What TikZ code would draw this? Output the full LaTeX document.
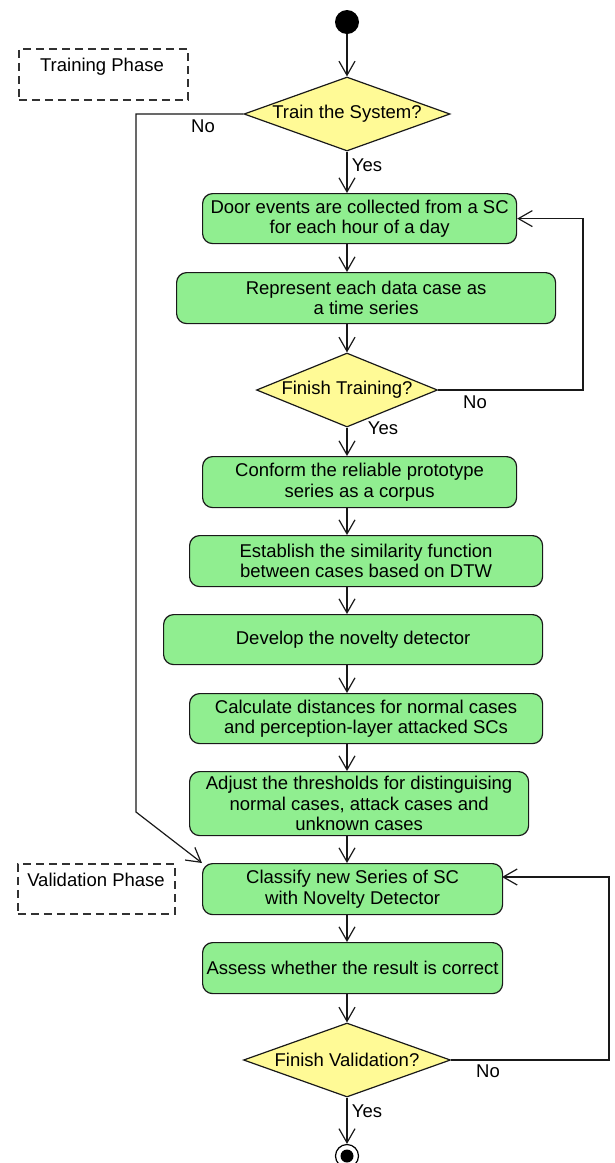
\documentclass[tikz,border=0pt]{standalone}
\usepackage{fontspec}
\setmainfont{Liberation Sans}
\usetikzlibrary{shapes.geometric,arrows.meta}
\definecolor{boxgreen}{RGB}{144,238,144}
\definecolor{dyellow}{RGB}{255,250,150}
\definecolor{dashgray}{RGB}{50,50,50}
\definecolor{edgegray}{RGB}{25,25,25}
\begin{document}
\begin{tikzpicture}[x=1pt,y=-1pt,
  font=\fontsize{18.5}{20.5}\selectfont,
  box/.style={draw=edgegray, line width=1.2pt, fill=boxgreen, rounded corners=10pt,
    align=center, inner sep=0pt, anchor=north west},
  dec/.style={diamond, draw=edgegray, line width=1.2pt, fill=dyellow, inner sep=0pt},
  arr/.style={-{Straight Barb[length=14pt,width=16pt]}, line width=1.2pt, draw=edgegray},
  phase/.style={draw=dashgray, dash pattern=on 8pt off 5pt, line width=1.5pt,
    anchor=north west, inner sep=0pt},
  lab/.style={inner sep=0pt}]
\useasboundingbox (0,0) rectangle (614,1163);
\begin{scope}
\clip (0,0) rectangle (614,1163);
% nodes
\node[circle, fill=black, minimum size=24pt, inner sep=0pt] (start) at (347,22) {};
\node[dec, minimum width=206pt, minimum height=74pt, aspect=2.8] (d1) at (347,114) {Train the System?};
\node[box, minimum width=314pt, minimum height=50pt] (b1) at (202,193) {Door events are collected from a SC\\for each hour of a day};
\node[box, minimum width=379pt, minimum height=51pt] (b2) at (176,272) {Represent each data case as\\a time series};
\node[dec, minimum width=181pt, minimum height=74pt, aspect=2.45] (d2) at (347,390) {Finish Training?};
\node[box, minimum width=314pt, minimum height=51pt] (b3) at (202,456) {Conform the reliable prototype\\series as a corpus};
\node[box, minimum width=353pt, minimum height=51pt] (b4) at (189,535) {Establish the similarity function\\between cases based on DTW};
\node[box, minimum width=379pt, minimum height=50pt] (b5) at (163,614) {Develop the novelty detector};
\node[box, minimum width=353pt, minimum height=50pt] (b6) at (189,693) {Calculate distances for normal cases\\and perception-layer attacked SCs};
\node[box, minimum width=339pt, minimum height=64pt] (b7) at (189,771) {Adjust the thresholds for distinguising\\normal cases, attack cases and\\unknown cases};
\node[box, minimum width=300pt, minimum height=51pt] (b8) at (202,863) {Classify new Series of SC\\with Novelty Detector};
\node[box, minimum width=300pt, minimum height=51pt] (b9) at (202,942) {Assess whether the result is correct};
\node[dec, minimum width=207pt, minimum height=74pt, aspect=2.8] (d3) at (347,1060) {Finish Validation?};
\node[circle, draw=black, line width=1.2pt, minimum size=23pt, inner sep=0pt] (end) at (347,1156) {};
\node[circle, fill=black, minimum size=13pt, inner sep=0pt] (endin) at (end) {};
% phase boxes
\node[phase, minimum width=169pt, minimum height=51pt] (tp) at (18,48) {};
\node[lab] (tpl) at (102,67) {Training Phase};
\node[phase, minimum width=157pt, minimum height=50pt] (vp) at (17,863) {};
\node[lab] (vpl) at (96,880) {Validation Phase};
% helper coordinates
\coordinate (ax) at (347,0);
\coordinate (lx) at (136,0);
\coordinate (bend) at (136,812);
\coordinate (rx1) at (583,0);
\coordinate (rx2) at (609,0);
\coordinate (in8) at (502,877);
% connectors
\draw[arr] (start) -- (d1);
\draw[arr] (d1) -- (b1.north -| ax);
\draw[arr] (b1.south -| ax) -- (b2.north -| ax);
\draw[arr] (b2.south -| ax) -- (d2);
\draw[arr] (d2) -- (b3.north -| ax);
\draw[arr] (b3.south -| ax) -- (b4.north -| ax);
\draw[arr] (b4.south -| ax) -- (b5.north -| ax);
\draw[arr] (b5.south -| ax) -- (b6.north -| ax);
\draw[arr] (b6.south -| ax) -- (b7.north -| ax);
\draw[arr] (b7.south -| ax) -- (b8.north -| ax);
\draw[arr] (b8.south -| ax) -- (b9.north -| ax);
\draw[arr] (b9.south -| ax) -- (d3);
\draw[arr] (d3) -- (end);
\draw[arr] (d2.east) -- (d2.east -| rx1) |- (b1.east);
\draw[arr] (d1.west) -- (d1.west -| lx) -- (bend) -- (b8.north west);
\draw[arr] (d3.east) -- (d3.east -| rx2) |- (in8);
% labels
\node[lab] (no1) at (203,126) {No};
\node[lab] (yes1) at (367,165) {Yes};
\node[lab] (no2) at (475,402) {No};
\node[lab] (yes2) at (383,428) {Yes};
\node[lab] (no3) at (488,1071) {No};
\node[lab] (yes3) at (367,1111) {Yes};
\end{scope}
\end{tikzpicture}
\end{document}
